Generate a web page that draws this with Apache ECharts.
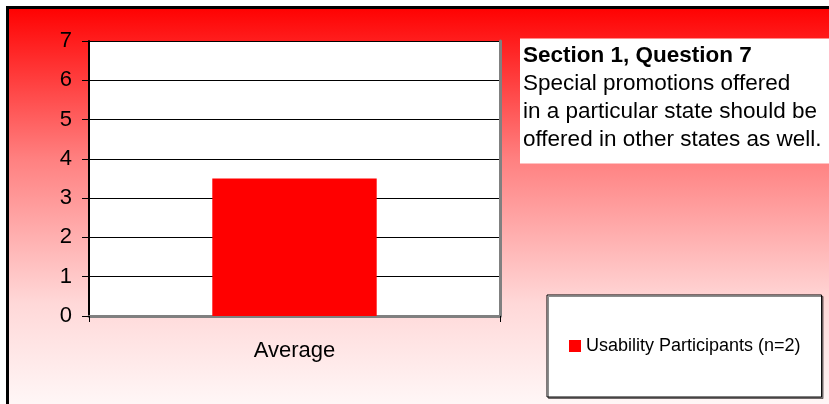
<!DOCTYPE html>
<html>
<head>
<meta charset="utf-8">
<script src="https://cdn.jsdelivr.net/npm/echarts@6/dist/echarts.min.js"></script>
<style>
  html, body { margin: 0; padding: 0; background: #fff; }
  #chart { width: 829px; height: 404px; }
</style>
</head>
<body>
<div id="chart"></div>
<script>
// data
const categories = ['Average']
const seriesName = 'Usability Participants (n=2)'
const values = [3.5]
const yTicks = { min: 0, max: 7, interval: 1 }
const titleHead = 'Section 1, Question 7'
const titleLines = [
  'Special promotions offered',
  'in a particular state should be',
  'offered in other states as well.'
]

const font = 'Liberation Sans, Arial, sans-serif'
const chart = echarts.init(document.getElementById('chart'))

const options = {
  animation: false,
  textStyle: { fontFamily: font },
  graphic: [{
    type: 'rect',
    z: -10,
    silent: true,
    shape: { x: 7.5, y: 7.5, width: 830, height: 410 },
    style: {
      stroke: '#000',
      lineWidth: 3,
      fill: new echarts.graphic.LinearGradient(0, 0, 0, 1, [
        { offset: 0, color: '#ff0000' },
        { offset: 0.37, color: '#ff8080' },
        { offset: 0.72, color: '#ffd8d8' },
        { offset: 1, color: '#fffbfb' }
      ])
    }
  }],
  title: {
    left: 520,
    top: 36,
    padding: [6, 12, 12, 3],
    backgroundColor: '#fff',
    text: ['{b|' + titleHead + '}'].concat(titleLines.map(l => '{n|' + l + '}')).join('\n'),
    textStyle: {
      rich: {
        b: { fontSize: 22.5, fontWeight: 'bold', color: '#000', lineHeight: 28, fontFamily: font },
        n: { fontSize: 22.5, fontWeight: 'normal', color: '#000', lineHeight: 28, fontFamily: font }
      }
    }
  },
  legend: {
    left: 547,
    top: 295,
    padding: [42, 21, 42, 22],
    backgroundColor: '#fff',
    borderColor: '#000',
    borderWidth: 1,
    shadowColor: 'rgba(0,0,0,0.45)',
    shadowOffsetX: 1.5,
    shadowOffsetY: 1.5,
    shadowBlur: 0,
    itemWidth: 12,
    itemHeight: 12,
    icon: 'rect',
    textStyle: { fontSize: 18, color: '#000', fontFamily: font },
    data: [seriesName]
  },
  grid: {
    left: 89,
    top: 41,
    right: 329,
    bottom: 88,
    show: true,
    backgroundColor: '#fff',
    borderWidth: 0
  },
  xAxis: [{
    type: 'category',
    data: categories,
    boundaryGap: true,
    axisLine: { lineStyle: { color: '#000', width: 2 } },
    axisTick: { show: true, length: 6, lineStyle: { color: '#000' } },
    axisLabel: { fontSize: 22, color: '#000', margin: 24, fontFamily: font }
  }, {
    type: 'category',
    data: categories,
    position: 'top',
    axisLine: { lineStyle: { color: '#808080', width: 3 } },
    axisTick: { show: false },
    axisLabel: { show: false }
  }],
  yAxis: [{
    type: 'value',
    min: yTicks.min,
    max: yTicks.max,
    interval: yTicks.interval,
    axisLine: { show: true, lineStyle: { color: '#000', width: 2 } },
    axisTick: { show: true, length: 7, lineStyle: { color: '#000' } },
    axisLabel: { fontSize: 22, color: '#000', margin: 17, fontFamily: font },
    splitLine: { show: true, lineStyle: { color: '#000', width: 1 } }
  }, {
    type: 'value',
    min: yTicks.min,
    max: yTicks.max,
    interval: yTicks.interval,
    position: 'right',
    axisLine: { show: true, lineStyle: { color: '#808080', width: 3 } },
    axisTick: { show: false },
    axisLabel: { show: false },
    splitLine: { show: false }
  }],
  series: [{
    name: seriesName,
    type: 'bar',
    xAxisIndex: 0,
    yAxisIndex: 0,
    barWidth: '40%',
    itemStyle: { color: '#ff0000' },
    data: values
  }]
}

chart.setOption(options)
</script>
</body>
</html>
